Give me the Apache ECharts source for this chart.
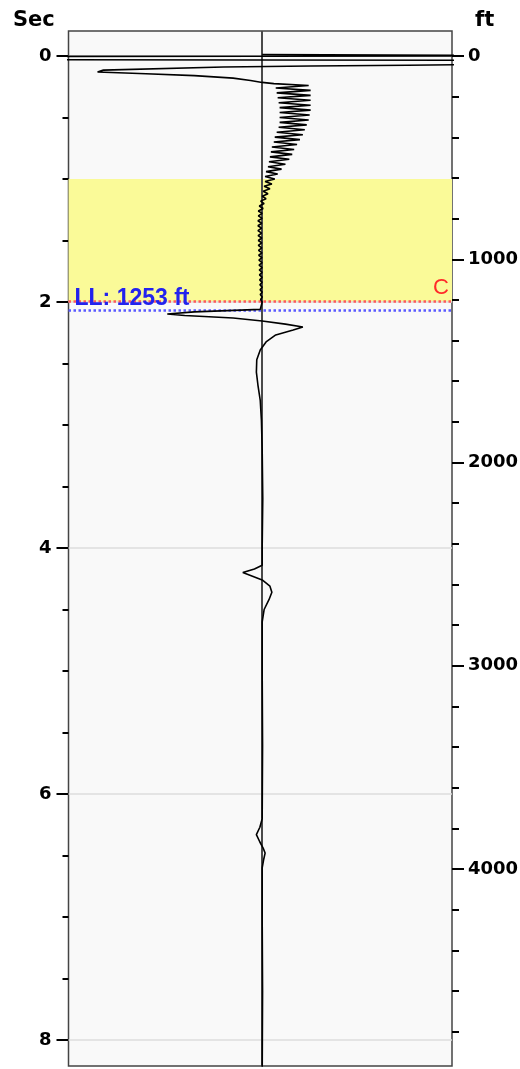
<!DOCTYPE html>
<html>
<head>
<meta charset="utf-8">
<script src="https://cdn.jsdelivr.net/npm/echarts@6/dist/echarts.min.js"></script>
<style>
html,body{margin:0;padding:0;background:#ffffff;}
#chart{width:520px;height:1069px;}
</style>
</head>
<body>
<div id="chart"></div>
<script>
// ---- data ----
// trace: time (sec) and amplitude (normalized, 0 = centre line)
var traceTime = [
  -0.012, 0.0, 0.004, 0.03, 0.036, 0.062, 0.075, 0.082, 0.09, 0.115, 0.13, 0.145, 0.16, 0.18, 0.2, 0.215, 0.225,
  0.24, 0.26, 0.28, 0.30, 0.32, 0.34, 0.36, 0.38, 0.40, 0.42, 0.44, 0.46, 0.48, 0.50, 0.52, 0.54, 0.56, 0.58,
  0.60, 0.62, 0.64, 0.66, 0.68, 0.70, 0.72, 0.74, 0.76, 0.78, 0.80, 0.82, 0.84, 0.86, 0.88, 0.90, 0.92, 0.94,
  0.96, 0.98, 1.00, 1.02, 1.04, 1.06, 1.08, 1.10, 1.12, 1.14, 1.16, 1.18, 1.20, 1.22, 1.24, 1.26, 1.28, 1.30,
  1.32, 1.34, 1.36, 1.38, 1.40, 1.42, 1.44, 1.46, 1.48, 1.50, 1.52, 1.54, 1.56, 1.58, 1.60, 1.62, 1.64, 1.66,
  1.68, 1.70, 1.72, 1.74, 1.76, 1.78, 1.80, 1.82, 1.84, 1.86, 1.88, 1.90, 1.92, 1.94, 1.96, 1.98, 2.00, 2.03,
  2.06, 2.072, 2.08, 2.098, 2.11, 2.13, 2.154, 2.18, 2.203, 2.228, 2.268, 2.325, 2.39, 2.47, 2.57, 2.675, 2.8,
  2.96, 3.2, 3.6, 4.0, 4.14, 4.17, 4.2, 4.23, 4.26, 4.31, 4.36, 4.42, 4.5, 4.6, 5.0, 5.6, 6.2, 6.27, 6.33, 6.39,
  6.44, 6.48, 6.53, 6.6, 7.0, 7.6, 8.3
];
var traceAmp = [
  0.0, 1.6, -1.6, -1.6, 1.6, 1.6, 0.75, 0.25, -0.2, -0.82, -0.85, -0.6, -0.35, -0.15, -0.06, 0.0, 0.06,
  0.24, 0.07, 0.25, 0.075, 0.25, 0.08, 0.25, 0.085, 0.25, 0.09, 0.25, 0.09, 0.245, 0.09, 0.24, 0.09, 0.23, 0.085,
  0.22, 0.075, 0.21, 0.065, 0.195, 0.06, 0.18, 0.05, 0.165, 0.045, 0.155, 0.04, 0.14, 0.035, 0.12, 0.03, 0.10, 0.02,
  0.08, 0.015, 0.065, 0.015, 0.05, 0.01, 0.04, 0.005, 0.03, 0.0, 0.02, -0.008, 0.01, -0.015, 0.005, -0.02, 0.0, -0.02,
  0.0, -0.022, -0.002, -0.022, -0.003, -0.022, -0.003, -0.021, -0.002, -0.02, -0.002, -0.02, -0.002, -0.019, -0.001, -0.018, -0.001, -0.017,
  0.0, -0.016, 0.0, -0.015, 0.0, -0.014, 0.0, -0.013, 0.0, -0.012, 0.0, -0.011, 0.0, -0.01, 0.0, -0.008, 0.0, -0.005,
  -0.01, -0.02, -0.35, -0.49, -0.40, -0.15, 0.0, 0.12, 0.21, 0.16, 0.07, 0.02, -0.01, -0.028, -0.03, -0.022, -0.01,
  -0.004, 0.0, 0.003, 0.0, 0.0, -0.04, -0.1, -0.05, 0.0, 0.04, 0.05, 0.035, 0.01, 0.0, 0.0, 0.002, 0.0, -0.012, -0.03, -0.012,
  0.005, 0.015, 0.008, 0.0, 0.0, 0.002, 0.0
];

// axes
var secMin = -0.203, secMax = 8.211;
var ftMin = -123, ftMax = 4969;
var secLabels = [0, 2, 4, 6, 8];
var secMinorTicks = [0.5, 1, 1.5, 2.5, 3, 3.5, 4.5, 5, 5.5, 6.5, 7, 7.5];
var ftLabels = [0, 1000, 2000, 3000, 4000];
var ftMinorTicks = [200, 400, 600, 800, 1200, 1400, 1600, 1800, 2200, 2400, 2600, 2800,
                    3200, 3400, 3600, 3800, 4200, 4400, 4600, 4800];
var gridSec = [0, 2, 4, 6, 8];

// zones / markers
var zoneSec = [1.0, 2.0];
var topName = 'C', topFt = 1205;
var llFt = 1253;

// ---- chart ----
var pairs = traceTime.map(function (t, i) { return [traceAmp[i], t]; });
var chart = echarts.init(document.getElementById('chart'), null, {renderer: 'canvas'});
var labelFont = {color: '#000', fontFamily: 'DejaVu Sans', fontWeight: 'bold', fontSize: 18};

function yAx(pos, mn, mx, ticks, len, labels, margin) {
  return {
    type: 'value', position: pos, min: mn, max: mx, inverse: true,
    axisLine: {show: false, onZero: false},
    splitLine: {show: false},
    axisTick: {show: true, inside: false, length: len, customValues: ticks,
               lineStyle: {color: '#000', width: 2}},
    axisLabel: labels ? Object.assign({show: true, customValues: ticks, margin: margin,
                                       formatter: function (v) { return String(v); }}, labelFont)
                      : {show: false}
  };
}

chart.setOption({
  animation: false,
  backgroundColor: '#ffffff',
  title: [
    {text: 'Sec', left: 8, top: 5, textStyle: {fontFamily: 'DejaVu Sans', fontWeight: 'bold', fontSize: 21, color: '#000'}},
    {text: 'ft', left: 470, top: 5, textStyle: {fontFamily: 'DejaVu Sans', fontWeight: 'bold', fontSize: 21, color: '#000'}}
  ],
  grid: {left: 68.5, right: 68, top: 31, bottom: 3, show: true, containLabel: false,
         outerBoundsMode: 'none',
         backgroundColor: '#f9f9f9', borderColor: '#444', borderWidth: 1.5},
  xAxis: {type: 'value', min: -1, max: 0.98, show: false},
  yAxis: [
    yAx('left', secMin, secMax, secLabels, 12, true, 17),
    yAx('left', secMin, secMax, secMinorTicks, 6, false, 0),
    yAx('right', ftMin, ftMax, ftLabels, 12, true, 16),
    yAx('right', ftMin, ftMax, ftMinorTicks, 7, false, 0)
  ],
  series: [
    {
      type: 'line', data: [], yAxisIndex: 0, z: 1, silent: true,
      markArea: {silent: true, itemStyle: {color: '#fafa98'},
                 data: [[{yAxis: zoneSec[0]}, {yAxis: zoneSec[1]}]]},
      markLine: {silent: true, symbol: ['none', 'none'], label: {show: false},
        data: gridSec.map(function (s) {
          return {yAxis: s, lineStyle: {color: '#dcdcdc', width: 1.5, type: 'solid'}};
        }).concat([{xAxis: 0, lineStyle: {color: '#4a4a4a', width: 2, type: 'solid'}}])
      }
    },
    {
      type: 'line', data: [], yAxisIndex: 2, z: 3, silent: true,
      markLine: {silent: true, symbol: ['none', 'none'],
        data: [
          {yAxis: topFt, lineStyle: {color: '#ff5a5a', width: 2.5, type: 'dotted'},
           label: {show: true, formatter: topName, position: 'insideEndTop', distance: [3, 2],
                   color: '#ff2a2a', fontFamily: 'Liberation Sans', fontSize: 22}},
          {yAxis: llFt, lineStyle: {color: '#5a5aff', width: 2.5, type: 'dotted'},
           label: {show: true, formatter: 'LL: ' + llFt + ' ft', position: 'insideStartTop', distance: [6, 1],
                   color: '#2222ee', fontFamily: 'Liberation Sans', fontWeight: 'bold', fontSize: 23}}
        ]
      }
    },
    {
      type: 'line', data: pairs, yAxisIndex: 0, z: 5, showSymbol: false, clip: true,
      lineStyle: {color: '#000', width: 1.6}
    }
  ]
});
</script>
</body>
</html>
